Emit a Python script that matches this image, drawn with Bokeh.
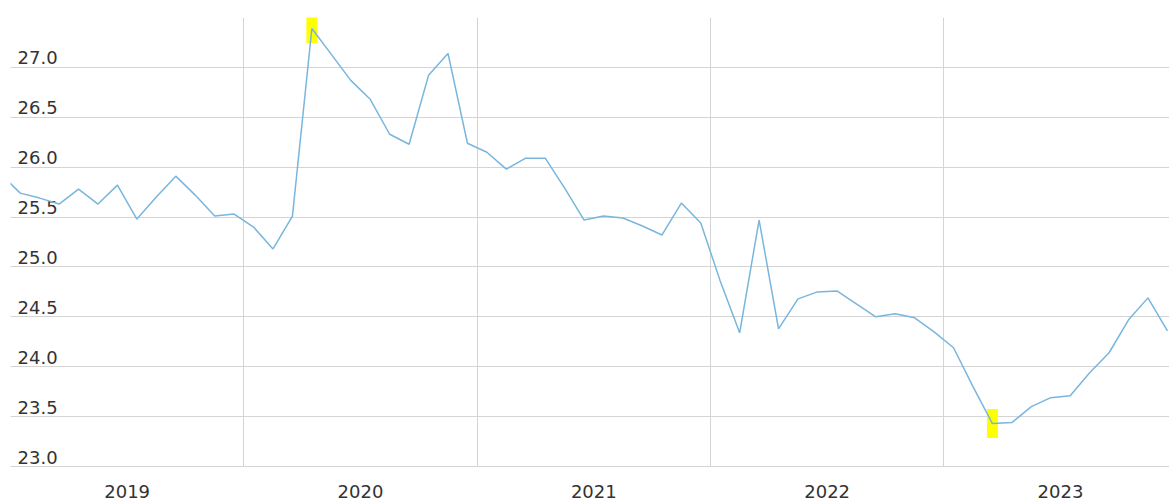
import numpy as np
from bokeh.plotting import figure
from bokeh.models import Range1d, FixedTicker, CustomJSTickFormatter, ColumnDataSource
from bokeh.core.properties import value
from bokeh.embed import file_html
from bokeh.resources import INLINE

# Monthly series, Dec 2018 .. Dec 2023
years = [2018] + [y for y in range(2019, 2024) for _ in range(12)]
months = [12] + [m for _ in range(2019, 2024) for m in range(1, 13)]
values = [
    25.93,
    25.74, 25.69, 25.63, 25.78, 25.63, 25.82, 25.48, 25.70, 25.91, 25.72, 25.51, 25.53,
    25.40, 25.18, 25.51, 27.39, 27.13, 26.87, 26.68, 26.33, 26.23, 26.92, 27.14, 26.24,
    26.15, 25.98, 26.09, 26.09, 25.79, 25.47, 25.51, 25.49, 25.41, 25.32, 25.64, 25.44,
    24.86, 24.34, 25.47, 24.38, 24.68, 24.75, 24.76, 24.63, 24.50, 24.53, 24.49, 24.35,
    24.19, 23.80, 23.43, 23.44, 23.60, 23.69, 23.71, 23.94, 24.14, 24.47, 24.69, 24.36,
]
year_labels = [2019, 2020, 2021, 2022, 2023]
y_ticks = [23.0, 23.5, 24.0, 24.5, 25.0, 25.5, 26.0, 26.5, 27.0]

x = [y + (m - 0.5) / 12.0 for y, m in zip(years, months)]
src = ColumnDataSource(dict(x=x, y=values))

GRID = "#d4d4d4"
TEXT = "#333333"
FONT = "DejaVu Sans"

p = figure(width=1169, height=500, output_backend="svg", toolbar_location=None,
           x_range=Range1d(2019.0, 2019.0 + 1159 / 233.33),
           y_range=Range1d(23.0, 27.5),
           min_border_left=10, min_border_right=0, min_border_top=17, min_border_bottom=0)
p.outline_line_color = None
p.background_fill_color = "white"
p.border_fill_color = "white"

# x axis: labels at mid-year, grid at year boundaries
p.xaxis.ticker = FixedTicker(ticks=[yl + 0.5 for yl in year_labels])
p.xaxis.formatter = CustomJSTickFormatter(code="return Math.floor(tick).toString();")
p.xaxis.major_tick_line_color = None
p.xaxis.minor_tick_line_color = None
p.xaxis.axis_line_color = GRID
p.xaxis.major_label_text_font = FONT
p.xaxis.major_label_text_font_size = "18px"
p.xaxis.major_label_text_color = TEXT
p.xaxis.major_label_standoff = 12
p.xgrid.ticker = FixedTicker(ticks=[float(yl) for yl in year_labels])
p.xgrid.grid_line_color = GRID
p.xgrid.grid_line_width = 1

p.yaxis.visible = False
p.ygrid.ticker = FixedTicker(ticks=y_ticks)
p.ygrid.grid_line_color = GRID
p.ygrid.grid_line_width = 1

# y tick labels drawn inside the plot area
lab = ColumnDataSource(dict(x=[2019.0] * len(y_ticks), y=y_ticks,
                            t=["%.1f" % v for v in y_ticks]))
p.text(x="x", y="y", text="t", source=lab, x_offset=7, y_offset=-3,
       text_font=value(FONT), text_font_size="18px", text_color=TEXT,
       text_baseline="bottom", text_align="left")

# highlight max and min
vals = np.array(values)
imax, imin = int(vals.argmax()), int(vals.argmin())
hl = ColumnDataSource(dict(x=[x[imax], x[imin]], y=[values[imax], values[imin]]))
p.rect(x="x", y="y", width=11, height=29, width_units="screen", height_units="screen",
       source=hl, fill_color="#ffff00", line_color=None)

p.line(x="x", y="y", source=src, line_color="#78b6dd", line_width=1.5)

open("out.html", "w").write(file_html(p, INLINE))
